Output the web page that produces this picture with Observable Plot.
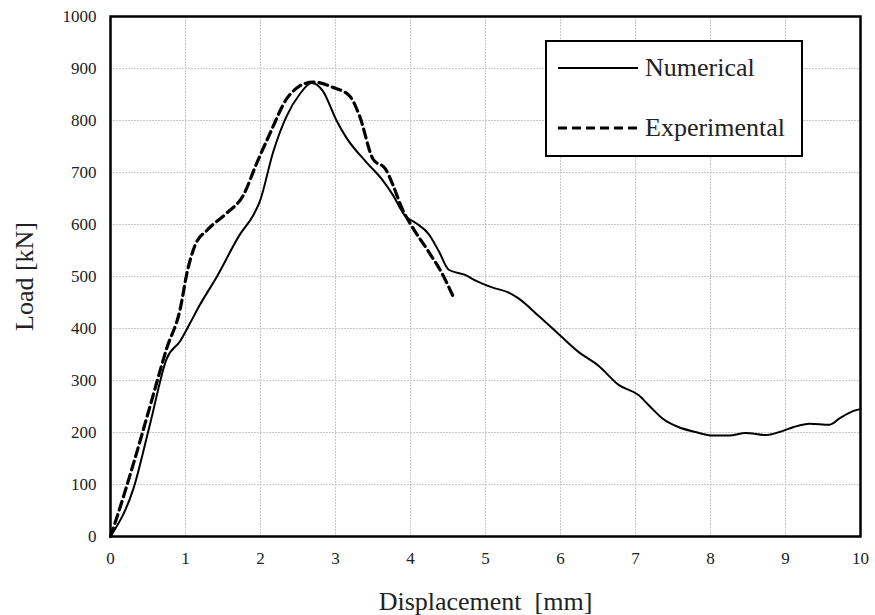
<!DOCTYPE html>
<html>
<head>
<meta charset="utf-8">
<script src="https://cdn.jsdelivr.net/npm/d3@7"></script>
<script src="https://cdn.jsdelivr.net/npm/@observablehq/plot@0.6"></script>
<style>
  html, body { margin: 0; padding: 0; background: #fff; }
  #chart { position: relative; width: 875px; height: 615px; font-family: "Liberation Serif", "DejaVu Serif", serif; }
  #legend {
    position: absolute; left: 545px; top: 40px; width: 254px; height: 113px;
    border: 2px solid #000; background: #fff; box-sizing: content-box;
  }
  #legend .row { position: absolute; left: 10px; display: flex; align-items: center; font-size: 26px; line-height: 30px; color: #222; }
  #legend .row svg { margin-right: 6px; }
</style>
</head>
<body>
<div id="chart"></div>
<script>
// Load–displacement response: numerical model vs. experiment
const numDisp = [0, 0.31, 0.53, 0.75, 0.93, 1.06, 1.19, 1.42, 1.73, 1.90, 1.99, 2.17, 2.35, 2.52, 2.68, 2.83, 3.01, 3.14, 3.41, 3.63, 3.76, 3.93, 4.07, 4.24, 4.38, 4.51, 4.73, 4.87, 5.09, 5.31, 5.44, 5.71, 6.0, 6.24, 6.51, 6.78, 7.04, 7.18, 7.36, 7.58, 7.80, 8.03, 8.25, 8.47, 8.74, 8.92, 9.10, 9.32, 9.59, 9.72, 9.90, 10.0];
const numLoad = [0, 94, 218, 342, 376, 410, 445, 500, 582, 617, 644, 740, 809, 850, 872, 857, 801, 768, 720, 685, 658, 616, 603, 582, 548, 513, 503, 492, 479, 469, 458, 424, 386, 355, 328, 291, 272, 252, 227, 210, 201, 194, 194, 199, 195, 201, 210, 217, 215, 227, 241, 245];

const expDisp = [0, 0.09, 0.31, 0.53, 0.75, 0.93, 1.02, 1.13, 1.28, 1.55, 1.77, 1.95, 2.12, 2.35, 2.52, 2.70, 2.96, 3.19, 3.32, 3.50, 3.67, 3.76, 3.89, 4.02, 4.24, 4.42, 4.58];
const expLoad = [0, 39, 142, 252, 362, 438, 507, 561, 588, 622, 656, 718, 773, 842, 866, 874, 864, 847, 809, 726, 706, 678, 630, 596, 548, 506, 458];

const xTicks = [0, 1, 2, 3, 4, 5, 6, 7, 8, 9, 10];
const yTicks = [0, 100, 200, 300, 400, 500, 600, 700, 800, 900, 1000];
const seriesNames = ["Numerical", "Experimental"];

const numerical = numDisp.map((d, i) => ({disp: d, load: numLoad[i]}));
const experimental = expDisp.map((d, i) => ({disp: d, load: expLoad[i]}));

const font = '"Liberation Serif", "DejaVu Serif", serif';

const plot = Plot.plot({
  width: 875,
  height: 615,
  marginLeft: 110,
  marginRight: 15,
  marginTop: 16,
  marginBottom: 79,
  style: {fontFamily: font, color: "#222", background: "#fff"},
  x: {domain: [0, 10]},
  y: {domain: [0, 1000]},
  marks: [
    Plot.gridX(xTicks, {stroke: "#c8c8c8", strokeOpacity: 1, strokeDasharray: "2,1"}),
    Plot.gridY(yTicks, {stroke: "#c8c8c8", strokeOpacity: 1, strokeDasharray: "2,1"}),
    Plot.axisX(xTicks, {tickSize: 0, tickPadding: 15, fontSize: 17, tickFormat: d3.format("d"),
      label: "Displacement  [mm]", labelAnchor: "center", labelArrow: "none", labelOffset: 73}),
    Plot.axisY(yTicks, {tickSize: 0, tickPadding: 14, fontSize: 17, tickFormat: d3.format("d"),
      label: "Load [kN]", labelAnchor: "center", labelArrow: "none", labelOffset: 96}),
    Plot.line(numerical, {x: "disp", y: "load", stroke: "#000", strokeWidth: 2, curve: "monotone-x"}),
    Plot.line(experimental, {x: "disp", y: "load", stroke: "#000", strokeWidth: 3.2, strokeDasharray: "9,5", curve: "monotone-x"}),
    Plot.frame({stroke: "#000", strokeWidth: 2.5})
  ]
});

// enlarge axis titles
d3.select(plot).selectAll('g[aria-label="x-axis label"] text, g[aria-label="y-axis label"] text')
  .style("font-size", "26px");

const chart = document.getElementById("chart");
chart.appendChild(plot);

// legend box
const legend = document.createElement("div");
legend.id = "legend";
const rowTops = [11, 71];
seriesNames.forEach((name, i) => {
  const row = document.createElement("div");
  row.className = "row";
  row.style.top = rowTops[i] + "px";
  const dash = i === 0 ? "" : 'stroke-dasharray="9,5"';
  const sw = i === 0 ? 2 : 3.2;
  row.innerHTML = `<svg width="82" height="24"><line x1="1" y1="12" x2="81" y2="12" stroke="#000" stroke-width="${sw}" ${dash}/></svg><span>${name}</span>`;
  legend.appendChild(row);
});
chart.appendChild(legend);
</script>
</body>
</html>
